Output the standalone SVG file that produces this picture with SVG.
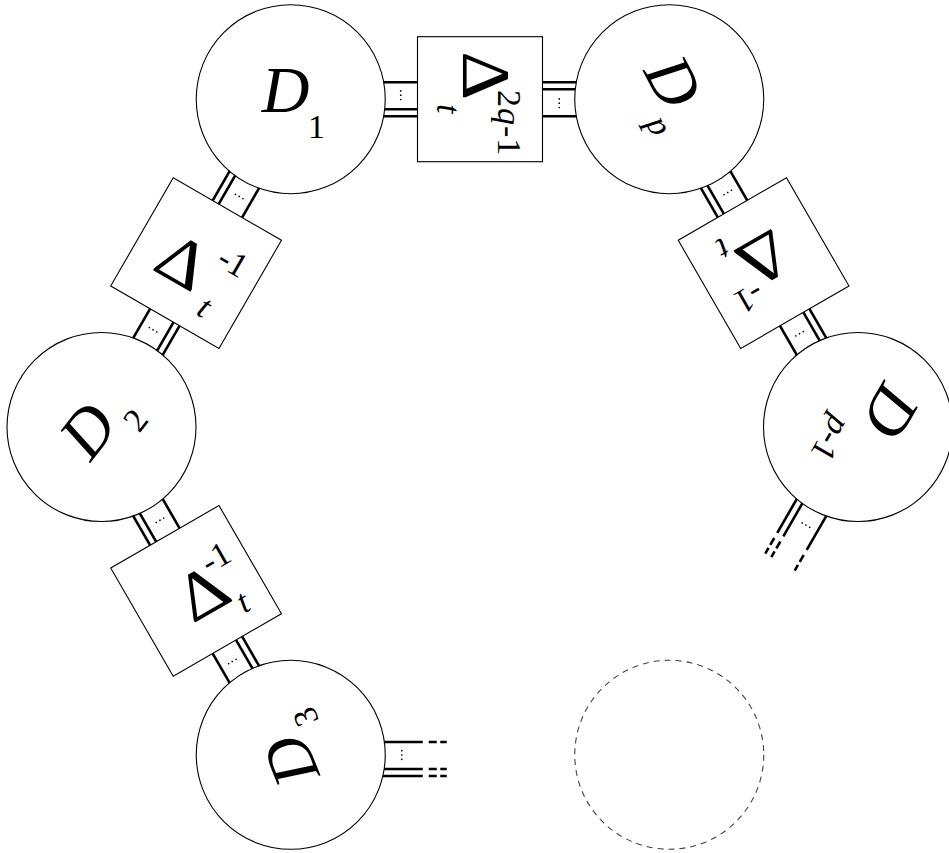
<svg xmlns="http://www.w3.org/2000/svg" xmlns:xlink="http://www.w3.org/1999/xlink" width="949" height="853" viewBox="0 0 949 853">
<style>
.c{fill:#fff;stroke:#000;stroke-width:1.1}
.dash{fill:none;stroke:#444;stroke-width:1.1;stroke-dasharray:6 5}
.w{stroke:#000;stroke-width:2.6;fill:none}
.dot{fill:#000}
text{font-family:"Liberation Serif","DejaVu Serif",serif;fill:#000;text-anchor:middle}
.it{font-style:italic}
.big{font-size:66px}
.dl{font-size:68px}
.sm{font-size:34px}
</style>
<defs>
<g id="stub">
<line class="w" x1="85" y1="-17" x2="130" y2="-17"/>
<line class="w" x1="85" y1="10" x2="130" y2="10"/>
<line class="w" x1="85" y1="17" x2="130" y2="17"/>
<circle class="dot" cx="110" cy="-8.3" r="0.85"/>
<circle class="dot" cx="110" cy="-4" r="0.85"/>
<circle class="dot" cx="110" cy="0.3" r="0.85"/>
</g>
<g id="stubOpen">
<path class="w" d="M85,-17H132M138,-17H146M149.5,-17H156M85,10H132M138,10H146M149.5,10H156M85,17H132M138,17H146M149.5,17H156"/>
<circle class="dot" cx="111" cy="-8.3" r="0.85"/>
<circle class="dot" cx="111" cy="-4" r="0.85"/>
<circle class="dot" cx="111" cy="0.3" r="0.85"/>
</g>
</defs>

<g id="connectors">
<use xlink:href="#stub" transform="translate(290.75,99.2) rotate(0)"/>
<use xlink:href="#stub" transform="translate(669.25,99.2) rotate(180)"/>
<use xlink:href="#stub" transform="translate(290.75,99.2) rotate(120)"/>
<use xlink:href="#stub" transform="translate(101.5,427) rotate(-60)"/>
<use xlink:href="#stub" transform="translate(101.5,427) rotate(60)"/>
<use xlink:href="#stub" transform="translate(290.75,754.8) rotate(-120)"/>
<use xlink:href="#stub" transform="translate(669.25,99.2) rotate(60)"/>
<use xlink:href="#stub" transform="translate(858,427) rotate(-120)"/>
<use xlink:href="#stubOpen" transform="translate(290.75,759) rotate(0)"/>
<use xlink:href="#stubOpen" transform="translate(858,427) rotate(120)"/>
</g>

<g id="D1">
<circle class="c" cx="290.75" cy="99.2" r="94.5"/>
<text class="big it" transform="translate(285.5,90)" y="22">D</text>
<text class="sm" transform="translate(316.5,126)" y="11.5">1</text>
</g>

<g id="box-top">
<rect class="c" x="417.5" y="36.7" width="125" height="125"/>
<text class="dl" transform="translate(486.3,75.7) rotate(90) scale(1.12,1)" y="22">Δ</text>
<text class="sm it" transform="translate(447,108.8) rotate(90)" y="10">t</text>
<text class="sm" transform="translate(505.8,123.2) rotate(90)" y="7.8" letter-spacing="1">2<tspan class="it">q</tspan>-1</text>
</g>

<g id="Dp">
<circle class="c" cx="669.25" cy="99.2" r="94.5"/>
<text class="big it" transform="translate(673.3,81.7) rotate(62)" y="22">D</text>
<text class="sm it" transform="translate(653,129) rotate(62)" y="4">p</text>
</g>

<g id="box-right">
<rect class="c" x="-62.5" y="-62.5" width="125" height="125" transform="translate(763.6,263.1) rotate(-30)"/>
<text class="dl" transform="translate(763.3,258.7) rotate(150) scale(1.12,1)" y="22">Δ</text>
<text class="sm it" transform="translate(722.8,248.3) rotate(150)" y="10">t</text>
<text class="sm" transform="translate(749.5,298.3) rotate(150)" y="11.5">-1</text>
</g>

<g id="Dp-1">
<circle class="c" cx="858" cy="427" r="94.5"/>
<text class="big it" transform="translate(891,411.3) rotate(120)" y="22">D</text>
<text class="sm" transform="translate(828,437) rotate(120)" y="7.8"><tspan class="it">p</tspan>-1</text>
</g>

<g id="box-upper-left">
<rect class="c" x="-62.5" y="-62.5" width="125" height="125" transform="translate(196.1,263.1) rotate(30)"/>
<text class="dl" transform="translate(182.8,262) rotate(30) scale(1.12,1)" y="22">Δ</text>
<text class="sm" transform="translate(233.3,261.7) rotate(30)" y="11.5">-1</text>
<text class="sm it" transform="translate(204.2,307.7) rotate(30)" y="10">t</text>
</g>

<g id="D2">
<circle class="c" cx="101.5" cy="427" r="94.5"/>
<text class="big it" transform="translate(87.8,430.5) rotate(-52)" y="22">D</text>
<text class="sm" transform="translate(135.5,420) rotate(-52)" y="11.5">2</text>
</g>

<g id="box-lower-left">
<rect class="c" x="-62.5" y="-62.5" width="125" height="125" transform="translate(196.1,590.9) rotate(-30)"/>
<text class="dl" transform="translate(202.8,592.8) rotate(-30) scale(1.12,1)" y="22">Δ</text>
<text class="sm" transform="translate(215.5,557.2) rotate(-30)" y="11.5">-1</text>
<text class="sm it" transform="translate(243.3,602.7) rotate(-30)" y="10">t</text>
</g>

<g id="D3">
<circle class="c" cx="290.75" cy="754.8" r="94.5"/>
<text class="big it" transform="translate(291,760.8) rotate(-112)" y="22">D</text>
<text class="sm" transform="translate(305.5,717) rotate(-112)" y="11.5">3</text>
</g>

<g id="D-dashed">
<circle class="dash" cx="669.25" cy="754.8" r="94.5"/>
</g>
</svg>
